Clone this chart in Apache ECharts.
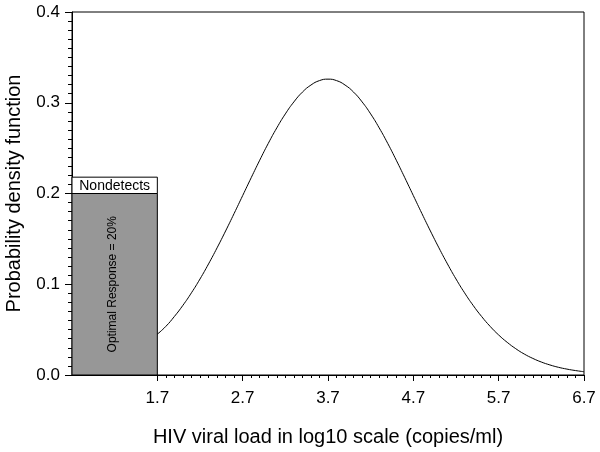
<!DOCTYPE html>
<html>
<head>
<meta charset="utf-8">
<script src="https://cdn.jsdelivr.net/npm/echarts@6/dist/echarts.min.js"></script>
<style>
html,body{margin:0;padding:0;background:#fff;}
#c{width:600px;height:452px;}
</style>
</head>
<body>
<div id="c"></div>
<script>
// x positions (log10 viral load) for the density curve
var curveX = [1.7,1.8,1.9,2.0,2.1,2.2,2.3,2.4,2.5,2.6,2.7,2.8,2.9,3.0,3.1,3.2,3.3,3.4,3.5,3.6,3.7,
  3.8,3.9,4.0,4.1,4.2,4.3,4.4,4.5,4.6,4.7,4.8,4.9,5.0,5.1,5.2,5.3,5.4,5.5,5.6,5.7,
  5.8,5.9,6.0,6.1,6.2,6.3,6.4,6.5,6.6,6.7];
// density values
var curveY = [0.0450,0.0536,0.0645,0.0768,0.0906,0.1058,0.1224,0.1401,0.1587,0.1780,0.1977,
  0.2174,0.2367,0.2552,0.2723,0.2877,0.3009,0.3117,0.3195,0.3244,0.3260,
  0.3244,0.3195,0.3117,0.3009,0.2877,0.2723,0.2552,0.2367,0.2174,0.1977,
  0.1780,0.1587,0.1401,0.1224,0.1058,0.0906,0.0768,0.0645,0.0536,0.0441,
  0.0360,0.0290,0.0231,0.0183,0.0143,0.0111,0.0085,0.0065,0.0049,0.0036];
// nondetects block: [xStart, xEnd, yBottom, yTop]
var nondetectBar = [0.7, 1.7, 0.0, 0.2];
var nondetectLabelBox = [0.7, 1.7, 0.2, 0.218];
var barText = 'Optimal Response = 20%';
var boxText = 'Nondetects';
// axis ticks
var xMajorTicks = [1.7, 2.7, 3.7, 4.7, 5.7, 6.7];
var xTickLabels = ['1.7', '2.7', '3.7', '4.7', '5.7', '6.7'];
var xMinorTicks = [];
for (var i = 17; i <= 67; i++) { if ((i - 17) % 10 !== 0) xMinorTicks.push(i / 10); }

var FONT = '"Liberation Sans", Arial, sans-serif';
var chart = echarts.init(document.getElementById('c'), null, {renderer: 'canvas'});

var curveData = curveX.map(function (x, k) { return [x, curveY[k]]; });

chart.setOption({
  animation: false,
  backgroundColor: '#fff',
  grid: {left: 72, right: 16, top: 12, bottom: 77, containLabel: false, outerBoundsMode: 'none',
    show: true, borderColor: '#000', borderWidth: 1, backgroundColor: 'transparent'},
  xAxis: [{
    type: 'value', min: 0.7, max: 6.7,
    name: 'HIV viral load in log10 scale (copies/ml)',
    nameLocation: 'middle', nameGap: 52,
    nameTextStyle: {fontFamily: FONT, fontSize: 20, color: '#000'},
    axisLine: {show: true, lineStyle: {color: '#000', width: 1}},
    axisTick: {show: true, customValues: xMajorTicks, length: 6, lineStyle: {color: '#000'}},
    axisLabel: {show: true, customValues: xMajorTicks, margin: 15, fontFamily: FONT, fontSize: 17, color: '#000',
      formatter: function (v) { var k = xMajorTicks.indexOf(Math.round(v * 10) / 10); return k >= 0 ? xTickLabels[k] : ''; }},
    splitLine: {show: false}
  }, {
    type: 'value', min: 0.7, max: 6.7, position: 'bottom',
    axisLine: {show: false},
    axisTick: {show: true, customValues: xMinorTicks, length: 3, lineStyle: {color: '#000'}},
    axisLabel: {show: false},
    splitLine: {show: false}
  }],
  yAxis: {
    type: 'value', min: 0, max: 0.4, interval: 0.1,
    name: 'Probability density function',
    nameLocation: 'middle', nameGap: 48,
    nameTextStyle: {fontFamily: FONT, fontSize: 20, color: '#000'},
    axisLine: {show: true, lineStyle: {color: '#000', width: 1}},
    axisTick: {show: true, length: 7, lineStyle: {color: '#000'}},
    minorTick: {show: true, splitNumber: 10, length: 4, lineStyle: {color: '#000'}},
    axisLabel: {margin: 12, fontFamily: FONT, fontSize: 17, color: '#000', formatter: function (v) { return v.toFixed(1); }},
    splitLine: {show: false}
  },
  series: [{
    type: 'custom',
    xAxisIndex: 0,
    data: [nondetectBar.concat([0]), nondetectLabelBox.concat([1])],
    renderItem: function (params, api) {
      var p0 = api.coord([api.value(0), api.value(2)]);
      var p1 = api.coord([api.value(1), api.value(3)]);
      var kind = api.value(4);
      var x = p0[0], y = p1[1], w = p1[0] - p0[0], h = p0[1] - p1[1];
      if (kind === 0) {
        return {type: 'group', children: [
          {type: 'rect', shape: {x: x, y: y, width: w, height: h}, style: {fill: '#979797', stroke: '#000', lineWidth: 1}},
          {type: 'text', x: x + w / 2 - 2, y: y + h / 2, rotation: Math.PI / 2,
            style: {text: barText, fontFamily: FONT, fontSize: 12, fill: '#000', align: 'center', verticalAlign: 'middle'}}
        ]};
      }
      return {type: 'group', children: [
        {type: 'rect', shape: {x: x, y: y, width: w, height: h}, style: {fill: '#fff', stroke: '#000', lineWidth: 1}},
        {type: 'text', x: x + w / 2, y: y + h / 2 + 1,
          style: {text: boxText, fontFamily: FONT, fontSize: 14, fill: '#000', align: 'center', verticalAlign: 'middle'}}
      ]};
    },
    z: 3
  }, {
    type: 'line',
    xAxisIndex: 0,
    data: curveData,
    smooth: true,
    showSymbol: false,
    lineStyle: {color: '#000', width: 1},
    z: 4
  }]
});
</script>
</body>
</html>
